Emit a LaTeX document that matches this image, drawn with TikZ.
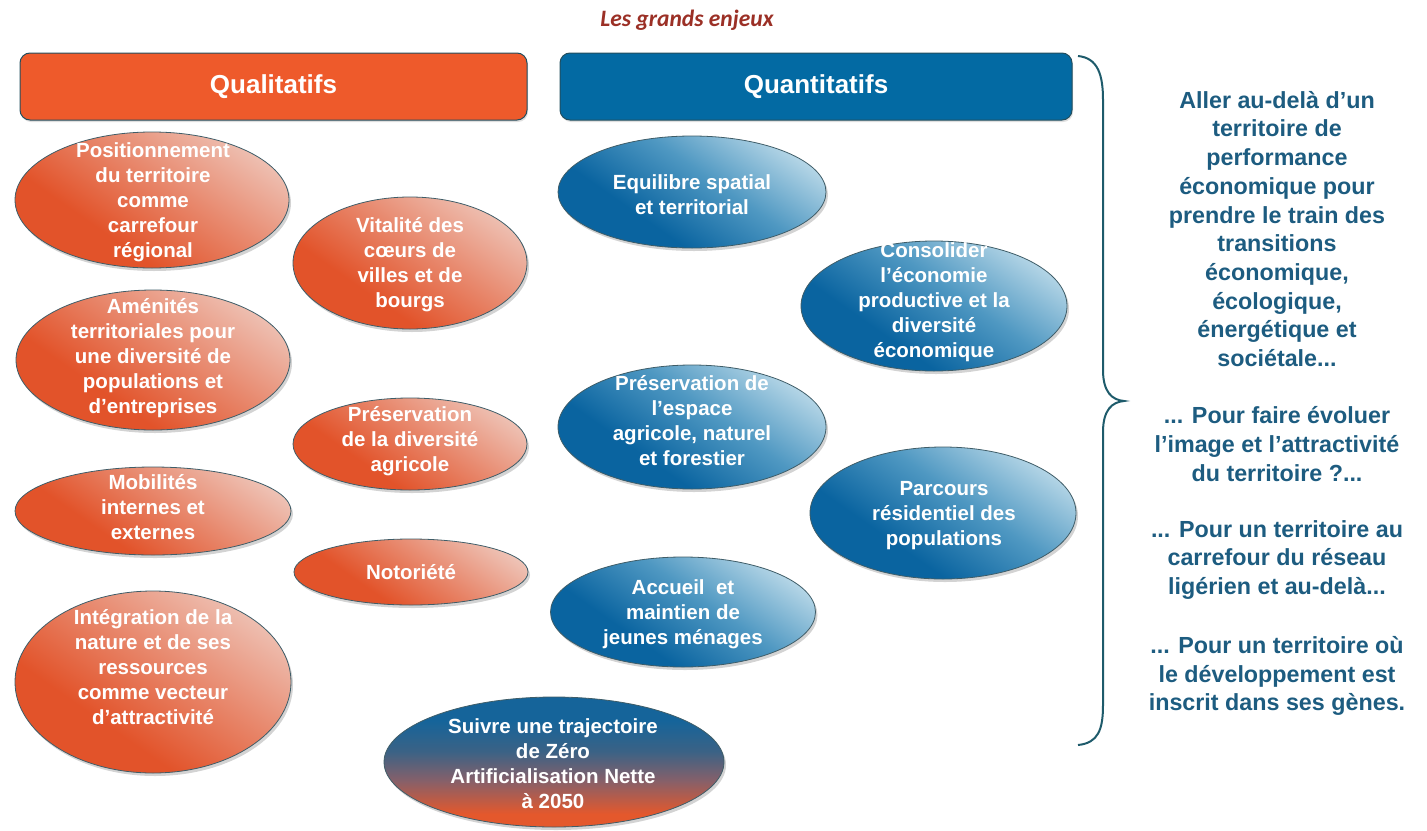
\documentclass[tikz,border=0pt]{standalone}
\usepackage{fontspec}
\setmainfont{Liberation Sans}
\newfontfamily\calib{Carlito}
\usetikzlibrary{shapes.geometric,shadows}
\definecolor{orhdr}{HTML}{EE5A2B}
\definecolor{blhdr}{HTML}{036AA3}
\definecolor{outl}{HTML}{234E5E}
\definecolor{ordark}{HTML}{E2532A}
\definecolor{ormid}{HTML}{E8896E}
\definecolor{orlight}{HTML}{F0D3CA}
\definecolor{bldark}{HTML}{0A64A0}
\definecolor{blmid}{HTML}{4F98C2}
\definecolor{bllight}{HTML}{D8EBF3}
\definecolor{mixor}{HTML}{E4582C}
\definecolor{mixmid}{HTML}{85606A}
\definecolor{mixbl}{HTML}{3B6285}
\definecolor{mixtop}{HTML}{15649A}
\definecolor{rtext}{HTML}{1D5C80}
\definecolor{bracec}{HTML}{1E5B6B}
\definecolor{titlec}{HTML}{9B3026}
\pgfdeclareverticalshading{orshade}{100bp}{color(0bp)=(ordark); color(36bp)=(ordark); color(56bp)=(ormid); color(82bp)=(orlight); color(100bp)=(orlight)}
\pgfdeclareverticalshading{blshade}{100bp}{color(0bp)=(bldark); color(36bp)=(bldark); color(56bp)=(blmid); color(82bp)=(bllight); color(100bp)=(bllight)}
\pgfdeclareverticalshading{mixshade}{100bp}{color(0bp)=(mixor); color(30bp)=(mixor); color(43bp)=(mixmid); color(54bp)=(mixbl); color(66bp)=(mixtop); color(100bp)=(mixtop)}
\tikzset{
  ell/.style={ellipse, inner sep=0pt, draw=outl!70!gray, line width=0.8pt,
    drop shadow={opacity=0.35, shadow xshift=2pt, shadow yshift=-3pt}},
  orell/.style={ell, shade, shading=orshade, shading angle=-35},
  blell/.style={ell, shade, shading=blshade, shading angle=-35},
  mixell/.style={ell, shade, shading=mixshade, shading angle=0},
  etxt/.style={inner sep=0pt, align=center, text=white, font=\fontsize{20.5}{25}\selectfont\bfseries},
  hdr/.style={rounded corners=10pt, draw=outl, line width=1pt, inner sep=0pt,
    text=white, font=\fontsize{26}{30}\selectfont\bfseries,
    drop shadow={opacity=0.25, shadow xshift=1pt, shadow yshift=-2pt}},
  rtxt/.style={inner sep=0pt, align=center, text=rtext, font=\fontsize{23.3}{28.7}\selectfont\bfseries},
  bracepath/.style={draw=bracec, line width=2pt}
}
\begin{document}
\begin{tikzpicture}[x=1pt,y=-1pt]
\useasboundingbox (0,0) rectangle (1427,830);
% title
\node[inner sep=0pt, text=titlec, font=\calib\fontsize{23.5}{26}\selectfont\bfseries\itshape] (title) at (687,20) {Les grands enjeux};
% headers
\node[hdr, fill=orhdr, minimum width=507pt, minimum height=67pt] (qual) at (273.5,86.5) {Qualitatifs};
\node[hdr, fill=blhdr, minimum width=512pt, minimum height=67pt] (quant) at (816,86.5) {Quantitatifs};
% orange ellipses
\node[orell, minimum width=274pt, minimum height=136pt] (e1) at (152,200) {};
\node[etxt] (t1) at (153,202) {Positionnement\\du territoire\\comme\\carrefour\\régional};
\node[orell, minimum width=234pt, minimum height=132pt] (e2) at (410,263) {};
\node[etxt] (t2) at (410,265) {Vitalité des\\cœurs de\\villes et de\\bourgs};
\node[orell, minimum width=274pt, minimum height=140pt] (e3) at (153,360) {};
\node[etxt] (t3) at (153,358) {Aménités\\territoriales pour\\une diversité de\\populations et\\d’entreprises};
\node[orell, minimum width=234pt, minimum height=92pt] (e4) at (410,444) {};
\node[etxt] (t4) at (410,441) {Préservation\\de la diversité\\agricole};
\node[orell, minimum width=276pt, minimum height=88pt] (e5) at (153,511) {};
\node[etxt] (t5) at (153,507) {Mobilités\\internes et\\externes};
\node[orell, minimum width=234pt, minimum height=66pt] (e6) at (411,572) {};
\node[etxt] (t6) at (411,572) {Notoriété};
\node[orell, minimum width=276pt, minimum height=182pt] (e7) at (153,682) {};
\node[etxt] (t7) at (153,667) {Intégration de la\\nature et de ses\\ressources\\comme vecteur\\d’attractivité};
% blue ellipses
\node[blell, minimum width=268pt, minimum height=112pt] (b1) at (692,192) {};
\node[etxt] (u1) at (692,195) {Equilibre spatial\\et territorial};
\node[blell, minimum width=266pt, minimum height=130pt] (b2) at (934,306) {};
\node[etxt] (u2) at (934,302) {Consolider\\l’économie\\productive et la\\diversité\\économique};
\node[blell, minimum width=268pt, minimum height=124pt] (b3) at (692,427) {};
\node[etxt] (u3) at (692,421) {Préservation de\\l’espace\\agricole, naturel\\et forestier};
\node[blell, minimum width=266pt, minimum height=132pt] (b4) at (943,513) {};
\node[etxt] (u4) at (944,516) {Parcours\\résidentiel des\\populations};
\node[blell, minimum width=265pt, minimum height=110pt] (b5) at (683,612) {};
\node[etxt] (u5) at (683,614) {Accueil\ \ et\\maintien de\\jeunes ménages};
\node[mixell, minimum width=340pt, minimum height=130pt] (b6) at (554,762) {};
\node[etxt] (u6) at (553,764) {Suivre une trajectoire\\de Zéro\\Artificialisation Nette\\à 2050};
% brace
\coordinate (bt) at (1078,56);
\coordinate (bb) at (1078,745);
\coordinate (tip) at (1124,401);
\draw[bracepath] (bt) .. controls (1098,58) and (1103,75) .. (1103,100) -- (1103,370)
  .. controls (1103,392) and (1112,400) .. (tip)
  .. controls (1112,402) and (1103,410) .. (1103,432) -- (1103,705)
  .. controls (1103,730) and (1098,743) .. (bb);
% right text
\node[rtxt] (r1) at (1277,229) {Aller au-delà d’un\\territoire de\\performance\\économique pour\\prendre le train des\\transitions\\économique,\\écologique,\\énergétique et\\sociétale...};
\node[rtxt] (r2) at (1277,444) {... Pour faire évoluer\\l’image et l’attractivité\\du territoire ?...};
\node[rtxt] (r3) at (1277,560) {... Pour un territoire au\\carrefour du réseau\\ligérien et au-delà...};
\node[rtxt] (r4) at (1277,676) {... Pour un territoire où\\le développement est\\inscrit dans ses gènes.};
\end{tikzpicture}
\end{document}
